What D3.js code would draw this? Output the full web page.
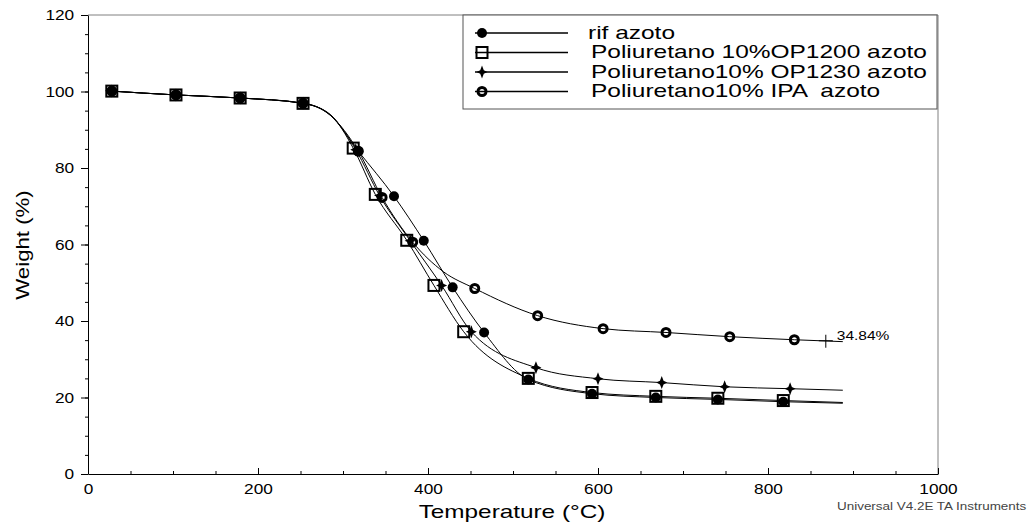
<!DOCTYPE html>
<html><head><meta charset="utf-8">
<script src="https://cdn.jsdelivr.net/npm/d3@7"></script>
<style>
body{margin:0;background:#fff}
svg{display:block}
text{font-family:"Liberation Sans",Arial,Helvetica,sans-serif;fill:#000}
</style>
</head><body>
<svg id="chart" width="1030" height="525"></svg>
<script>
// ---------- data ----------
const xTickValues = [0, 200, 400, 600, 800, 1000];
const yTickValues = [0, 20, 40, 60, 80, 100, 120];
const seriesNames = ["rif azoto", "Poliuretano 10%OP1200 azoto", "Poliuretano10% OP1230 azoto", "Poliuretano10% IPA  azoto"];

// [temperature °C, weight %] at the plotted markers
const rifMarkers = [[28,100.1],[103.5,99.1],[179,98.3],[253,97.0],[318,84.4],[360,72.6],[395,61.0],[429,48.8],[466,37.0],[518,24.7],[593,21.0],[668,20.0],[741,19.5],[818,18.9]];
const op1200Markers = [[28,100.1],[103.5,99.1],[179,98.3],[253,96.9],[312,85.2],[338,73.1],[375,61.1],[407,49.3],[442,37.2],[518,25.0],[593,21.3],[668,20.3],[741,19.8],[818,19.2]];
const op1230Markers = [[28,100.1],[103.5,99.1],[179,98.3],[253,96.9],[315,84.8],[343,72.8],[379,61.0],[416,49.3],[451,37.2],[527,27.8],[600,24.9],[675,23.9],[749,22.8],[826,22.3]];
const ipaMarkers = [[28,100.1],[103.5,99.1],[179,98.3],[253,96.9],[318,84.4],[346,72.3],[382,60.6],[455,48.5],[529,41.4],[606,38.0],[680,37.0],[755,35.9],[831,35.1]];

// extra points (no marker drawn)
const rifCurve = [[21,100.2],[285,93.8],[888,18.5]];
const op1200Curve = [[21,100.2],[285,94.0],[888,18.7]];
const op1230Curve = [[21,100.2],[285,93.9],[888,21.9]];
const ipaCurve = [[21,100.2],[285,93.8],[418,52.9],[888,34.6]];

const residueCursor = [868, 34.84];
const residueLabel = "34.84%";

// ---------- layout ----------
const svg = d3.select("#chart");
const X0 = 88, X1 = 938, Y0 = 474, Y1 = 15;
const SX = 1.15;

const x = d3.scaleLinear().domain([0, 1000]).range([X0, X1]);
const y = d3.scaleLinear().domain([0, 120]).range([Y0, Y1]);

// frame (top & right)
svg.append("path")
  .attr("d", `M${X0},${Y1}H${X1}V${Y0}`)
  .attr("fill", "none").attr("stroke", "#808080").attr("stroke-width", 1);

// y axis
const yMinor = d3.range(0, 121, 5);
svg.append("g").attr("transform", `translate(${X0},0)`)
  .call(d3.axisLeft(y).tickValues(yMinor).tickSize(3).tickFormat(""))
  .call(g => g.select(".domain").remove());
const gy = svg.append("g").attr("transform", `translate(${X0},0)`)
  .call(d3.axisLeft(y).tickValues(yTickValues).tickSize(7).tickPadding(5).tickSizeOuter(0).tickFormat(d3.format("d")));
gy.selectAll("text").attr("font-size", 15).attr("transform", `scale(${SX},1)`)
  .style("font-family", '"Liberation Sans",Arial,sans-serif');

// x axis
const xMinor = d3.range(0, 1001, 50);
svg.append("g").attr("transform", `translate(0,${Y0})`)
  .call(d3.axisBottom(x).tickValues(xMinor).tickSize(-3).tickFormat(""))
  .call(g => g.select(".domain").remove());
const gx = svg.append("g").attr("transform", `translate(0,${Y0})`)
  .call(d3.axisBottom(x).tickValues(xTickValues).tickSize(-6).tickPadding(9).tickSizeOuter(0).tickFormat(d3.format("d")));
gx.selectAll("text").attr("font-size", 15).attr("transform", `scale(${SX},1)`)
  .style("font-family", '"Liberation Sans",Arial,sans-serif');

svg.selectAll(".domain,.tick line").attr("stroke", "#000");

// axis titles
svg.append("text")
  .attr("transform", `translate(512,518) scale(1.28,1)`)
  .attr("text-anchor", "middle").attr("font-size", 19)
  .text("Temperature (°C)");
svg.append("text")
  .attr("transform", `translate(29,245) rotate(-90) scale(1.17,1)`)
  .attr("text-anchor", "middle").attr("font-size", 19)
  .text("Weight (%)");

svg.append("text")
  .attr("transform", `translate(837,510) scale(${SX},1)`)
  .attr("font-size", 11.7).style("fill", "#444")
  .text("Universal V4.2E TA Instruments");

// ---------- markers ----------
const starPath = "M0,-6.5L1.8,-1.8L5.5,0L1.8,1.8L0,6.5L-1.8,1.8L-5.5,0L-1.8,-1.8Z";
const markerFns = [
  g => g.append("circle").attr("r", 5).attr("fill", "#000"),
  g => g.append("rect").attr("x", -5.5).attr("y", -5.5).attr("width", 11).attr("height", 11)
        .attr("fill", "none").attr("stroke", "#000").attr("stroke-width", 2),
  g => g.append("path").attr("d", starPath).attr("fill", "#000"),
  g => g.append("circle").attr("r", 4).attr("fill", "none").attr("stroke", "#000").attr("stroke-width", 3)
];

const series = [
  {markers: rifMarkers, curve: rifCurve},
  {markers: op1200Markers, curve: op1200Curve},
  {markers: op1230Markers, curve: op1230Curve},
  {markers: ipaMarkers, curve: ipaCurve}
];

const line = d3.line().x(d => x(d[0])).y(d => y(d[1])).curve(d3.curveMonotoneX);

series.forEach(s => {
  const pts = s.markers.concat(s.curve).sort((a, b) => a[0] - b[0]);
  svg.append("path").datum(pts).attr("d", line)
    .attr("fill", "none").attr("stroke", "#000").attr("stroke-width", 1);
});
series.forEach((s, i) => {
  s.markers.forEach(d => {
    const g = svg.append("g").attr("transform", `translate(${x(d[0])},${y(d[1])})`);
    markerFns[i](g);
  });
});

// residue cursor
const cg = svg.append("g").attr("transform", `translate(${x(residueCursor[0])},${y(residueCursor[1])})`);
cg.append("path").attr("d", "M-7,0H7M0,-6V7").attr("stroke", "#000").attr("stroke-width", 1);
svg.append("text")
  .attr("transform", `translate(${x(residueCursor[0]) + 11},${y(residueCursor[1]) - 4}) scale(${SX},1)`)
  .attr("font-size", 13.5).attr("dominant-baseline", "middle")
  .text(residueLabel);

// ---------- legend ----------
const lg = svg.append("g");
lg.append("rect").attr("x", 463).attr("y", Y1).attr("width", 474).attr("height", 94)
  .attr("fill", "#fff").attr("stroke", "#555").attr("stroke-width", 1);
seriesNames.forEach((name, i) => {
  const ly = 33 + i * 19.5;
  lg.append("line").attr("x1", 475).attr("x2", 568).attr("y1", ly).attr("y2", ly)
    .attr("stroke", "#000").attr("stroke-width", 1.4);
  const g = lg.append("g").attr("transform", `translate(482,${ly})`);
  markerFns[i](g);
  lg.append("text")
    .attr("transform", `translate(${i === 0 ? 588 : 591},${ly + 1}) scale(1.36,1)`)
    .attr("font-size", 18).attr("dominant-baseline", "middle")
    .style("white-space", "pre")
    .text(name);
});
</script>
</body></html>
